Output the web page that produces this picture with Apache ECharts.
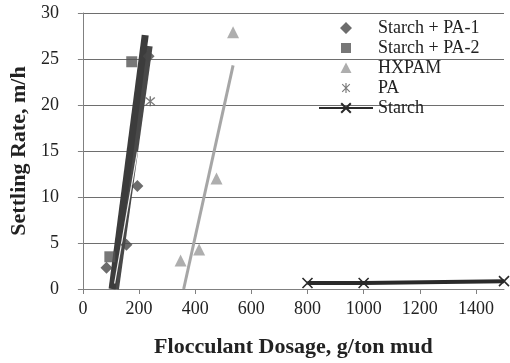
<!DOCTYPE html>
<html>
<head>
<meta charset="utf-8">
<script src="https://cdn.jsdelivr.net/npm/echarts@6/dist/echarts.min.js"></script>
<style>
  html, body { margin: 0; padding: 0; background: #ffffff; }
  #chart { width: 510px; height: 363px; }
</style>
</head>
<body>
<div id="chart"></div>
<script>
// Measured settling rates (m/h) against flocculant dosage (g/ton mud)
const starchPA1 = [[84, 2.3], [155, 4.8], [194, 11.2], [234, 25.3]];
const starchPA2 = [[96, 3.5], [174, 24.7]];
const hxpam = [[348, 3.1], [414, 4.3], [476, 12.0], [535, 27.9]];
const pa = [[240, 20.4]];
const starch = [[800, 0.65], [1000, 0.65], [1500, 0.85]];

// Linear trend lines (end points)
const trendPA1 = [[104, 0], [222, 27.6]];
const trendPA2 = [[116, 0], [236, 26.4]];
const trendPA = [[113, 0.6], [194, 14.9]];
const trendHXPAM = [[359, 0], [535, 24.3]];

const legendNames = ['Starch + PA-1', 'Starch + PA-2', 'HXPAM', 'PA', 'Starch'];
const xTickInterval = 200;
const yTickInterval = 5;

const FONT = '"Liberation Serif", "Times New Roman", serif';

// Filled six-armed asterisk in a 10x10 box (all sub-shapes share one winding)
const ASTERISK = 'M4.4,0L5.6,0L5.6,10L4.4,10Z' +
  'M0.8,1.6L1.6,0.8L9.2,8.4L8.4,9.2Z' +
  'M8.4,0.8L9.2,1.6L1.6,9.2L0.8,8.4Z';
const asteriskPath = 'path://' + ASTERISK;
const crossPath = 'path://M0,0L10,10M10,0L0,10';

// Legend icons: a 54x12 box (fixed by two tiny corner anchors) with the marker
// centred, so the scatter markers keep their shape next to the wider line icon.
const ANCHORS = 'M0,0L0.001,0L0,0.001Z M54,12L53.999,12L54,11.999Z ';
const legendIcons = {
  'Starch + PA-1': 'path://' + ANCHORS + 'M27,0L33,6L27,12L21,6Z',
  'Starch + PA-2': 'path://' + ANCHORS + 'M22,1L32,1L32,11L22,11Z',
  'HXPAM': 'path://' + ANCHORS + 'M27,0.5L32.5,11L21.5,11Z',
  'PA': 'path://' + ANCHORS +
    'M26.4,1L27.6,1L27.6,11L26.4,11Z' +
    'M22.8,2.6L23.6,1.8L31.2,9.4L30.4,10.2Z' +
    'M30.4,1.8L31.2,2.6L23.6,10.2L22.8,9.4Z'
};

function trend(name, data, color, width) {
  return {
    name: name, type: 'line', data: data, showSymbol: false, silent: true,
    lineStyle: { color: color, width: width }, z: 2, animation: false
  };
}

const chart = echarts.init(document.getElementById('chart'), null, { renderer: 'canvas' });
chart.setOption({
  animation: false,
  textStyle: { fontFamily: FONT },
  grid: { left: 78, right: 6, top: 13, bottom: 74 },
  legend: {
    data: legendNames.map(function (n) {
      return legendIcons[n] ? { name: n, icon: legendIcons[n] } : { name: n };
    }),
    orient: 'vertical',
    left: 313, top: 14,
    itemWidth: 54, itemHeight: 12, itemGap: 2,
    textStyle: { fontFamily: FONT, fontSize: 18, color: '#222', lineHeight: 18 }
  },
  xAxis: {
    type: 'value', min: 0, max: 1500, interval: xTickInterval,
    name: 'Flocculant Dosage, g/ton mud', nameLocation: 'middle', nameGap: 47,
    nameTextStyle: { fontFamily: FONT, fontSize: 22, fontWeight: 'bold', color: '#222' },
    axisLine: { show: true, lineStyle: { color: '#808080', width: 1 } },
    axisTick: { show: true, length: 5, lineStyle: { color: '#808080' } },
    axisLabel: {
      fontFamily: FONT, fontSize: 18, color: '#222', margin: 11,
      formatter: function (v) { return String(v); }
    },
    splitLine: { show: false }
  },
  yAxis: {
    type: 'value', min: 0, max: 30, interval: yTickInterval,
    name: 'Settling Rate, m/h', nameLocation: 'middle', nameGap: 40,
    nameTextStyle: { fontFamily: FONT, fontSize: 22, fontWeight: 'bold', color: '#222' },
    axisLine: { show: true, lineStyle: { color: '#808080', width: 1 } },
    axisTick: { show: true, length: 5, lineStyle: { color: '#808080' } },
    axisLabel: { fontFamily: FONT, fontSize: 18, color: '#222', margin: 24 },
    splitLine: { show: true, lineStyle: { color: '#6e6e6e', width: 1 } }
  },
  series: [
    trend('HXPAM trend', trendHXPAM, '#a6a6a6', 3),
    trend('Starch + PA-2 trend', trendPA2, '#484848', 7),
    trend('Starch + PA-1 trend', trendPA1, '#3c3c3c', 7),
    trend('PA trend', trendPA, '#f2f2f2', 1.2),
    {
      name: 'Starch + PA-1', type: 'scatter', data: starchPA1,
      symbol: 'diamond', symbolSize: 12, z: 3,
      itemStyle: { color: '#474747' }
    },
    {
      name: 'Starch + PA-2', type: 'scatter', data: starchPA2,
      symbol: 'rect', symbolSize: 11, z: 3,
      itemStyle: { color: '#555555' }
    },
    {
      name: 'HXPAM', type: 'scatter', data: hxpam,
      symbol: 'triangle', symbolSize: 12, z: 3,
      itemStyle: { color: '#9a9a9a' }
    },
    {
      name: 'PA', type: 'scatter', data: pa,
      symbol: asteriskPath, symbolSize: 10, z: 3,
      itemStyle: { color: '#5a5a5a' }
    },
    {
      name: 'Starch', type: 'line', data: starch,
      symbol: crossPath, symbolSize: 10, showSymbol: true, z: 3,
      lineStyle: { color: '#2a2a2a', width: 4 },
      itemStyle: { color: 'rgba(0,0,0,0)', borderColor: '#2a2a2a', borderWidth: 1.6 }
    }
  ]
});
</script>
</body>
</html>
